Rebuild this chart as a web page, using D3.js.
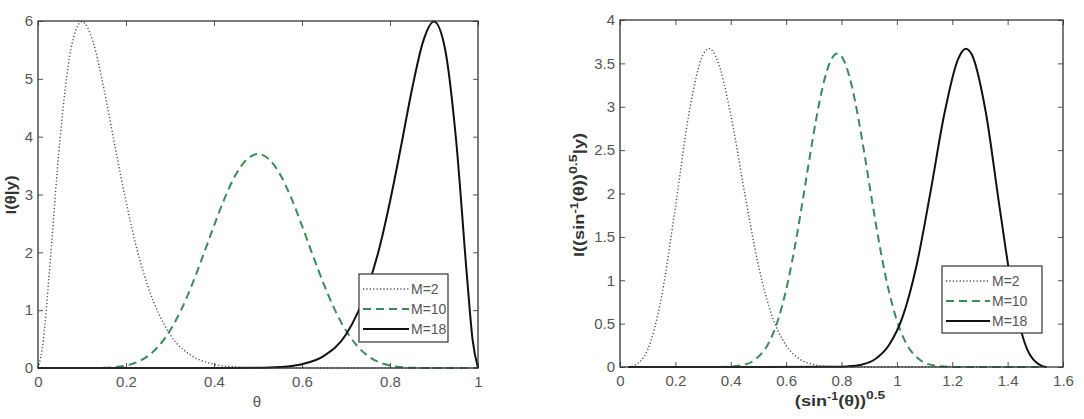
<!DOCTYPE html>
<html>
<head>
<meta charset="utf-8">
<script src="https://cdn.jsdelivr.net/npm/d3@7"></script>
<style>
html,body{margin:0;padding:0;background:#fff;}
svg{display:block;}
text{font-family:"Liberation Sans",Arial,sans-serif;}
</style>
</head>
<body>
<svg id="c" width="1084" height="419"></svg>
<script>
// ---------- Left panel data (theta) ----------
const leftM2X  = [0,0.0125,0.025,0.05,0.075,0.1,0.125,0.15,0.175,0.2,0.225,0.25,0.3,0.35,0.4,0.45,0.5,0.6,0.8,1];
const leftM2Y  = [0,0.50,1.58,3.96,5.52,5.99,5.64,4.82,3.83,2.88,2.05,1.41,0.58,0.21,0.065,0.017,0.004,0,0,0];
const leftM10X = [0,0.1,0.15,0.2,0.225,0.25,0.275,0.3,0.325,0.35,0.375,0.4,0.425,0.45,0.475,0.5,0.525,0.55,0.575,0.6,0.625,0.65,0.675,0.7,0.725,0.75,0.775,0.8,0.85,0.9,1];
const leftM10Y = [0,0,0.004,0.043,0.101,0.208,0.385,0.647,1.00,1.44,1.94,2.46,2.95,3.35,3.61,3.70,3.61,3.35,2.95,2.46,1.94,1.44,1.00,0.647,0.385,0.208,0.101,0.043,0.004,0,0];
const leftM18X = [0,0.2,0.4,0.5,0.55,0.6,0.65,0.7,0.75,0.775,0.8,0.825,0.85,0.875,0.9,0.925,0.95,0.975,0.9875,1];
const leftM18Y = [0,0,0,0.004,0.017,0.065,0.21,0.58,1.41,2.05,2.88,3.83,4.82,5.64,5.99,5.52,3.96,1.58,0.50,0];

// ---------- Right panel data (transformed) ----------
const rightM2X  = [0.03,0.05,0.1,0.15,0.2,0.25,0.3,0.322,0.35,0.4,0.45,0.5,0.55,0.6,0.65,0.7,0.75,0.8,0.9,1.2,1.54];
const rightM2Y  = [0,0.015,0.20,0.81,1.84,2.94,3.60,3.67,3.55,2.91,2.01,1.17,0.58,0.25,0.089,0.027,0.007,0.0015,0,0,0];
const rightM10X = [0.03,0.235,0.335,0.385,0.435,0.485,0.535,0.560,0.585,0.610,0.635,0.660,0.685,0.710,0.735,0.760,0.785,0.810,0.835,0.860,0.885,0.910,0.935,0.960,0.985,1.010,1.035,1.085,1.135,1.185,1.235,1.335,1.54];
const rightM10Y = [0,0,0.0003,0.0026,0.017,0.078,0.265,0.444,0.698,1.034,1.449,1.921,2.415,2.883,3.269,3.524,3.613,3.524,3.269,2.883,2.415,1.921,1.449,1.034,0.698,0.444,0.265,0.078,0.017,0.0026,0.0003,0,0];
const rightM18X = [0.03,0.4,0.771,0.821,0.871,0.921,0.971,1.021,1.071,1.121,1.171,1.221,1.249,1.271,1.321,1.371,1.421,1.471,1.521,1.54];
const rightM18Y = [0,0,0.0015,0.007,0.027,0.089,0.25,0.58,1.17,2.01,2.91,3.55,3.67,3.60,2.94,1.84,0.81,0.20,0.015,0];

// ---------- Ticks / labels ----------
const leftXTicks  = [0,0.2,0.4,0.6,0.8,1];
const leftXLabels = ["0","0.2","0.4","0.6","0.8","1"];
const leftYTicks  = [0,1,2,3,4,5,6];
const leftYLabels = ["0","1","2","3","4","5","6"];
const rightXTicks  = [0,0.2,0.4,0.6,0.8,1,1.2,1.4,1.6];
const rightXLabels = ["0","0.2","0.4","0.6","0.8","1","1.2","1.4","1.6"];
const rightYTicks  = [0,0.5,1,1.5,2,2.5,3,3.5,4];
const rightYLabels = ["0","0.5","1","1.5","2","2.5","3","3.5","4"];
const legendLabels = ["M=2","M=10","M=18"];

const seriesStyles = [
  {color:"#4a4a60", width:1.4, dash:"1.2,2.2"},
  {color:"#3a8a5c", width:2,   dash:"8,5"},
  {color:"#111111", width:2,   dash:null}
];

const svg = d3.select("#c");
const tickColor = "#555", labelColor = "#555";

function zip(xs, ys){ return xs.map((x,i)=>({x:x, y:ys[i]})); }

function panel(cfg){
  const x = d3.scaleLinear().domain(cfg.xDomain).range([cfg.left, cfg.right]);
  const y = d3.scaleLinear().domain(cfg.yDomain).range([cfg.bottom, cfg.top]);
  const g = svg.append("g");

  const bx = g.append("g").attr("transform",`translate(0,${cfg.bottom})`)
    .call(d3.axisBottom(x).tickValues(cfg.xTicks).tickFormat((d,i)=>cfg.xLabels[i]).tickSize(-5).tickPadding(8));
  const tx = g.append("g").attr("transform",`translate(0,${cfg.top})`)
    .call(d3.axisTop(x).tickValues(cfg.xTicks).tickFormat("").tickSize(-5));
  const ly = g.append("g").attr("transform",`translate(${cfg.left},0)`)
    .call(d3.axisLeft(y).tickValues(cfg.yTicks).tickFormat((d,i)=>cfg.yLabels[i]).tickSize(-5).tickPadding(5));
  const ry = g.append("g").attr("transform",`translate(${cfg.right},0)`)
    .call(d3.axisRight(y).tickValues(cfg.yTicks).tickFormat("").tickSize(-5));
  [bx,tx,ly,ry].forEach(a=>{
    a.select(".domain").remove();
    a.selectAll(".tick line").attr("stroke",tickColor).attr("stroke-width",1);
    a.selectAll("text").attr("fill",labelColor).style("font-size","15px").style("font-family","Liberation Sans, Arial, sans-serif");
  });

  const line = d3.line().x(d=>x(d.x)).y(d=>y(d.y)).curve(d3.curveMonotoneX);
  cfg.series.forEach((s,i)=>{
    const st = seriesStyles[i];
    g.append("path").datum(zip(s[0], s[1]))
      .attr("d", line).attr("fill","none")
      .attr("stroke", st.color).attr("stroke-width", st.width)
      .attr("stroke-dasharray", st.dash)
      .attr("stroke-linejoin","round");
  });

  g.append("rect").attr("x",cfg.left).attr("y",cfg.top)
    .attr("width",cfg.right-cfg.left).attr("height",cfg.bottom-cfg.top)
    .attr("fill","none").attr("stroke","#333").attr("stroke-width",1.3);

  const L = cfg.legend;
  g.append("rect").attr("x",L.x).attr("y",L.y).attr("width",L.w).attr("height",L.h)
    .attr("fill","#fff").attr("stroke","#333").attr("stroke-width",1.2);
  legendLabels.forEach((t,i)=>{
    const st = seriesStyles[i];
    const yy = L.y + 15 + i*20;
    g.append("line").attr("x1",L.x+4).attr("x2",L.x+L.lineLen).attr("y1",yy).attr("y2",yy)
      .attr("stroke",st.color).attr("stroke-width",st.width).attr("stroke-dasharray",st.dash);
    g.append("text").attr("x",L.x+L.lineLen+2).attr("y",yy+5).text(t)
      .attr("fill",labelColor).style("font-size","14px");
  });
  return {x,y,g};
}

panel({
  xDomain:[0,1], yDomain:[0,6], left:38, right:478, top:21, bottom:368,
  xTicks:leftXTicks, xLabels:leftXLabels, yTicks:leftYTicks, yLabels:leftYLabels,
  series:[[leftM2X,leftM2Y],[leftM10X,leftM10Y],[leftM18X,leftM18Y]],
  legend:{x:359,y:274,w:89,h:68,lineLen:50}
});
panel({
  xDomain:[0,1.6], yDomain:[0,4], left:620, right:1063, top:20, bottom:367,
  xTicks:rightXTicks, xLabels:rightXLabels, yTicks:rightYTicks, yLabels:rightYLabels,
  series:[[rightM2X,rightM2Y],[rightM10X,rightM10Y],[rightM18X,rightM18Y]],
  legend:{x:942,y:266,w:100,h:67,lineLen:48}
});

// axis titles
svg.append("text").attr("x",257).attr("y",407).attr("text-anchor","middle")
  .attr("fill",labelColor).style("font-size","15px").text("θ");
svg.append("text").attr("transform","translate(16,195) rotate(-90) scale(1.2,1)").attr("text-anchor","middle")
  .attr("fill","#333").style("font-size","14px").style("font-weight","bold").text("I(θ|y)");

const rx = svg.append("text").attr("transform","translate(840,406) scale(1.25,1)").attr("text-anchor","middle")
  .attr("fill","#333").style("font-size","14.5px").style("font-weight","bold");
rx.append("tspan").text("(sin");
rx.append("tspan").attr("dy",-6).style("font-size","10px").text("-1");
rx.append("tspan").attr("dy",6).text("(θ))");
rx.append("tspan").attr("dy",-7).style("font-size","11px").text("0.5");

const ry = svg.append("text").attr("transform","translate(584,195) rotate(-90) scale(1.3,1)").attr("text-anchor","middle")
  .attr("fill","#333").style("font-size","14px").style("font-weight","bold");
ry.append("tspan").text("I((sin");
ry.append("tspan").attr("dy",-6).style("font-size","10px").text("-1");
ry.append("tspan").attr("dy",6).text("(θ))");
ry.append("tspan").attr("dy",-7).style("font-size","11px").text("0.5");
ry.append("tspan").attr("dy",7).text("|y)");
</script>
</body>
</html>
